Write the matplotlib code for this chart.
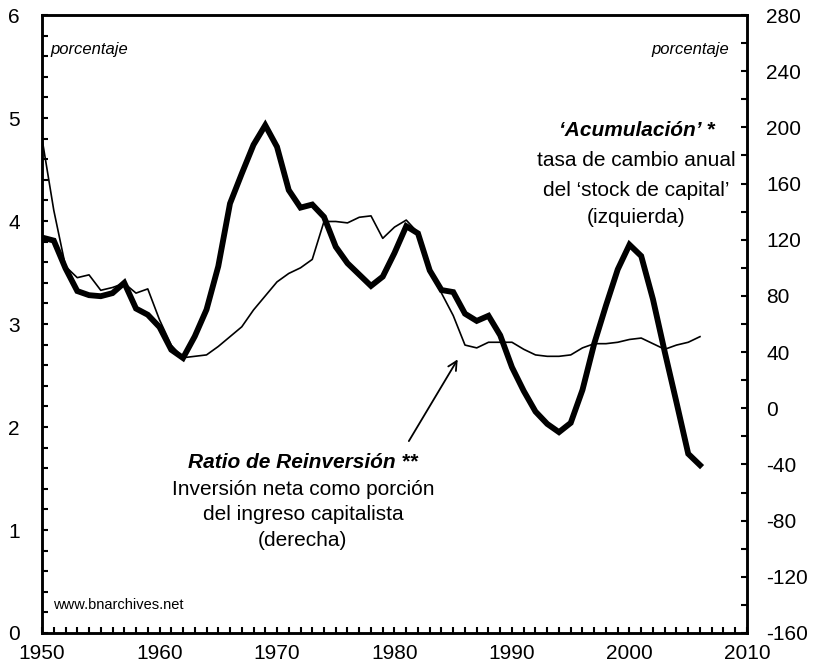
import numpy as np
import matplotlib.pyplot as plt
from matplotlib.ticker import MultipleLocator

plt.rcParams['font.family'] = ['Liberation Sans', 'DejaVu Sans']
plt.rcParams['axes.unicode_minus'] = False

# Years of the two series
years = list(range(1950, 2007))

# 'Acumulación': annual rate of change of capital stock, % (left axis)
acumulacion = [
    3.84, 3.81, 3.54, 3.32, 3.28, 3.27, 3.30, 3.40, 3.15, 3.09,
    2.97, 2.75, 2.67, 2.88, 3.14, 3.56, 4.17, 4.46, 4.74, 4.93,
    4.72, 4.30, 4.13, 4.16, 4.04, 3.75, 3.59, 3.48, 3.37, 3.46,
    3.69, 3.95, 3.88, 3.52, 3.33, 3.31, 3.10, 3.03, 3.08, 2.89,
    2.58, 2.35, 2.15, 2.03, 1.95, 2.04, 2.36, 2.81, 3.18, 3.53,
    3.77, 3.66, 3.24, 2.73, 2.24, 1.74, 1.63,
]

# Reinvestment ratio: net investment as share of capitalist income, % (right axis)
reinversion = [
    192, 141, 101, 93, 95, 84, 86, 89, 82, 85,
    63, 45, 36, 37, 38, 44, 51, 58, 70, 80,
    90, 96, 100, 106, 133, 133, 132, 136, 137, 121,
    129, 134, 125, 97, 82, 66, 45, 43, 47, 47,
    47, 42, 38, 37, 37, 38, 43, 46, 46, 47,
    49, 50, 46, 42, 45, 47, 51,
]

fig = plt.figure(figsize=(8.16, 6.68), dpi=100)
ax = fig.add_axes([0.0515, 0.0524, 0.9154 - 0.0515, 0.9775 - 0.0524])
ax2 = ax.twinx()

ax.plot(years, acumulacion, color='black', linewidth=4.2, solid_joinstyle='miter', zorder=3)
ax2.plot(years, reinversion, color='black', linewidth=1.2, zorder=2)

ax.set_xlim(1950, 2010)
ax.set_ylim(0, 6)
ax2.set_ylim(-160, 280)

ax.xaxis.set_major_locator(MultipleLocator(10))
ax.xaxis.set_minor_locator(MultipleLocator(1))
ax.yaxis.set_major_locator(MultipleLocator(1))
ax.yaxis.set_minor_locator(MultipleLocator(0.2))
ax2.yaxis.set_major_locator(MultipleLocator(40))
ax2.yaxis.set_minor_locator(MultipleLocator(20))

for a in (ax, ax2):
    for s in a.spines.values():
        s.set_linewidth(1.8)
    a.tick_params(which='both', direction='in', length=4, width=1.5, labelsize=15)

ax.tick_params(axis='x', which='both', top=False, pad=8)
ax.tick_params(axis='y', which='both', right=False, pad=16)
ax2.tick_params(axis='y', which='both', left=False, pad=14)

# Text annotations
ax.text(0.012, 0.945, 'porcentaje', transform=ax.transAxes, fontsize=12,
        style='italic', ha='left', va='center')
ax.text(0.975, 0.945, 'porcentaje', transform=ax.transAxes, fontsize=12,
        style='italic', ha='right', va='center')
ax.text(0.015, 0.045, 'www.bnarchives.net', transform=ax.transAxes,
        fontsize=10.5, ha='left', va='center')

acum_x = 2000.6
ax.text(acum_x, 4.88, '\u2018Acumulaci\u00f3n\u2019 *', fontsize=15,
        fontweight='bold', style='italic', ha='center', va='center')
for yv, line in zip([4.59, 4.30, 4.03],
                    ['tasa de cambio anual', 'del \u2018stock de capital\u2019', '(izquierda)']):
    ax.text(acum_x, yv, line, fontsize=15, ha='center', va='center')

reinv_x = 1972.2
ax.text(reinv_x, 1.66, 'Ratio de Reinversi\u00f3n **', fontsize=15,
        fontweight='bold', style='italic', ha='center', va='center')
for yv, line in zip([1.39, 1.15, 0.90],
                    ['Inversi\u00f3n neta como porci\u00f3n', 'del ingreso capitalista', '(derecha)']):
    ax.text(reinv_x, yv, line, fontsize=15, ha='center', va='center')

ax.annotate('', xy=(1985.5, 2.68), xytext=(1981.1, 1.84),
            arrowprops=dict(arrowstyle='->', color='black', lw=1.3,
                            mutation_scale=16))

fig.savefig('out.png', dpi=100)
